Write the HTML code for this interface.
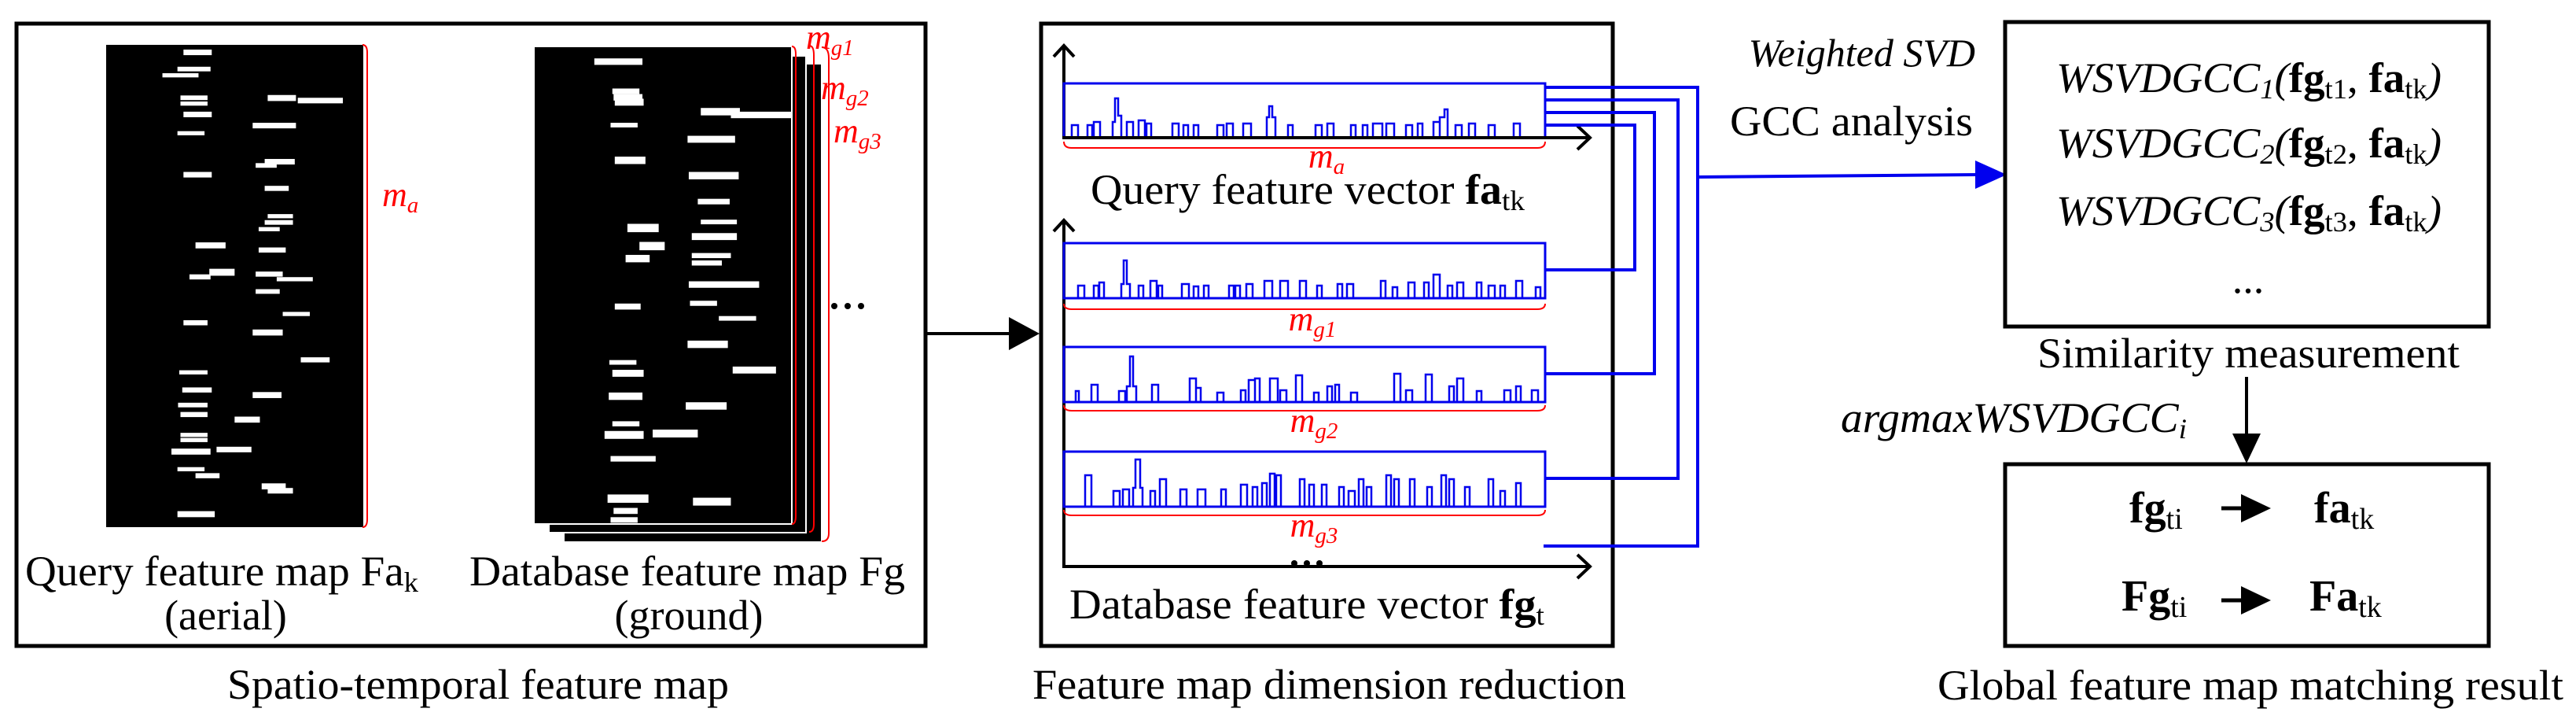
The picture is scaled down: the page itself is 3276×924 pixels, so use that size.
<!DOCTYPE html>
<html><head><meta charset="utf-8"><style>
html,body{margin:0;padding:0;background:#fff;font-family:"Liberation Serif","Times New Roman",serif;}
svg{display:block;}
svg text{font-family:"Liberation Serif","Times New Roman",serif;}
</style></head><body>
<svg width="3276" height="924" viewBox="0 0 3276 924" xmlns="http://www.w3.org/2000/svg" font-family="'Liberation Serif', 'Times New Roman', serif">
<defs>
<path id="sA" fill="none" stroke="#0000ee" stroke-width="2.5" d="M18 0v-16h8v16M38 0v-16h6v16M45 0v-20h6v20M73 0v-18h3v-30h4v30h4v18M95 0v-16h6v16M110 0v-22h8v22M120 0v-16h5v16M150 0v-18h9v18M165 0v-15h6v15M178 0v-16h6v16M210 0v-16h6v16M218 0v-16h6v16M232 0v-18h8v18M255 0v-22h10v22M275 0v-22h10v22M300 0v-22h8v22M322 0v-16h6v16M348 0v-18h6v18M360 0v-18h8v18M403 0v-22h6v22M418 0v-14h6v14M438 0v-20h8v20M458 0v-20h6v20M470 0v-30h8v30M488 0v-16h6v16M500 0v-20h8v20M525 0v-20h6v20M540 0v-16h8v16M555 0v-16h6v16M575 0v-22h8v22M600 0v-14h6v14"/>
<path id="sQ" fill="none" stroke="#0000ee" stroke-width="2.5" d="M10 0v-16h8v16M30 0v-16h6v16M38 0v-20h8v20M62 0v-20h3v-30h4v22h4v28M80 0v-20h8v20M95 0v-22h8v22M105 0v-18h6v18M138 0v-18h8v18M152 0v-16h6v16M165 0v-16h6v16M195 0v-16h8v16M207 0v-18h8v18M228 0v-18h10v18M258 0v-26h3v-14h4v14h4v26M285 0v-16h6v16M320 0v-16h8v16M335 0v-18h8v18M365 0v-16h6v16M380 0v-16h6v16M393 0v-18h12v18M410 0v-18h10v18M435 0v-16h8v16M450 0v-18h6v18M470 0v-20h8v20M478 0v-26h6v-10h4v36M498 0v-16h8v16M515 0v-18h8v18M540 0v-16h8v16M572 0v-18h8v18"/>
<path id="sB" fill="none" stroke="#0000ee" stroke-width="2.5" d="M15 0v-14h4v14M35 0v-22h8v22M70 0v-14h8v14M80 0v-20h4v-38h4v38h4v20M112 0v-22h8v22M160 0v-30h8v30M168 0v-18h6v18M195 0v-12h8v12M225 0v-15h6v15M235 0v-28h8v28M243 0v-30h6v30M262 0v-30h10v30M275 0v-15h8v15M295 0v-34h8v34M318 0v-12h6v12M335 0v-20h6v20M345 0v-22h5v22M365 0v-12h8v12M420 0v-36h8v36M435 0v-15h8v15M460 0v-35h8v35M490 0v-20h6v20M500 0v-30h8v30M525 0v-14h6v14M560 0v-15h8v15M575 0v-20h6v20M595 0v-15h8v15"/>
<path id="sC" fill="none" stroke="#0000ee" stroke-width="2.5" d="M27 0v-40h8v40M63 0v-20h8v20M75 0v-22h8v22M88 0v-24h3v-36h6v36h3v24M110 0v-20h6v20M122 0v-35h8v35M148 0v-22h8v22M170 0v-22h10v22M200 0v-22h6v22M225 0v-28h8v28M240 0v-25h6v25M252 0v-30h6v30M262 0v-42h6v42M270 0v-40h6v40M300 0v-35h6v35M312 0v-28h6v28M328 0v-28h6v28M350 0v-25h6v25M362 0v-20h8v20M375 0v-35h6v35M385 0v-25h6v25M410 0v-40h6v40M420 0v-35h6v35M440 0v-35h6v35M462 0v-25h6v25M480 0v-40h6v40M490 0v-35h6v35M510 0v-25h6v25M540 0v-35h6v35M555 0v-20h6v20M575 0v-30h6v30"/>
</defs>

<rect x="21" y="30" width="1156" height="791" fill="none" stroke="#000" stroke-width="5"/>
<rect x="135" y="57" width="327" height="613" fill="#000"/>
<g transform="scale(0.765,0.589)" fill="#fff">
<rect x="305" y="107" width="47" height="12"/><rect x="295" y="144" width="55" height="10"/><rect x="270" y="158" width="60" height="9"/>
<rect x="300" y="206" width="45" height="10"/><rect x="300" y="219" width="45" height="9"/><rect x="305" y="241" width="47" height="12"/>
<rect x="445" y="205" width="47" height="13"/><rect x="495" y="211" width="75" height="12"/><rect x="295" y="283" width="45" height="9"/>
<rect x="420" y="265" width="72" height="12"/><rect x="440" y="343" width="50" height="12"/><rect x="425" y="352" width="35" height="10"/>
<rect x="305" y="371" width="47" height="12"/><rect x="440" y="401" width="40" height="11"/><rect x="445" y="462" width="42" height="9"/>
<rect x="440" y="475" width="47" height="10"/><rect x="430" y="490" width="35" height="9"/><rect x="325" y="523" width="50" height="13"/>
<rect x="430" y="534" width="45" height="11"/><rect x="315" y="592" width="35" height="11"/><rect x="348" y="580" width="42" height="15"/>
<rect x="425" y="586" width="45" height="11"/><rect x="460" y="598" width="60" height="9"/><rect x="425" y="624" width="40" height="10"/>
<rect x="305" y="691" width="40" height="11"/><rect x="420" y="711" width="50" height="13"/><rect x="470" y="673" width="45" height="9"/>
<rect x="500" y="771" width="48" height="11"/><rect x="298" y="799" width="47" height="9"/><rect x="303" y="836" width="49" height="11"/>
<rect x="420" y="846" width="48" height="13"/><rect x="296" y="869" width="49" height="10"/><rect x="300" y="889" width="45" height="11"/>
<rect x="390" y="899" width="42" height="13"/><rect x="300" y="934" width="45" height="9"/><rect x="300" y="945" width="45" height="9"/>
<rect x="285" y="968" width="65" height="13"/><rect x="360" y="964" width="58" height="12"/><rect x="295" y="1008" width="45" height="9"/>
<rect x="325" y="1021" width="40" height="11"/><rect x="435" y="1043" width="40" height="13"/><rect x="445" y="1053" width="42" height="12"/>
<rect x="295" y="1103" width="62" height="13"/>
</g>
<path d="M461 57 q6 0 6 10 V660 q0 10 -6 10" fill="none" stroke="#f00" stroke-width="2"/>
<text x="486" y="262" font-size="44" font-style="italic" fill="#f00">m<tspan font-size="29" dy="8">a</tspan></text>

<rect x="718" y="82" width="326" height="606" fill="#000"/>
<rect x="698" y="71" width="327" height="606" fill="#000" stroke="#fff" stroke-width="2"/>
<rect x="679" y="59" width="328" height="607" fill="#000" stroke="#fff" stroke-width="2"/>
<g transform="scale(0.765,0.589)" fill="#fff">
<rect x="988" y="126" width="80" height="14"/><rect x="1018" y="191" width="45" height="12"/><rect x="1020" y="203" width="48" height="14"/>
<rect x="1022" y="213" width="48" height="15"/><rect x="1165" y="233" width="65" height="16"/><rect x="1215" y="241" width="100" height="14"/>
<rect x="1015" y="265" width="45" height="10"/><rect x="1143" y="293" width="79" height="15"/><rect x="1022" y="338" width="51" height="16"/>
<rect x="1145" y="371" width="83" height="16"/><rect x="1160" y="429" width="53" height="12"/><rect x="1043" y="483" width="52" height="18"/>
<rect x="1165" y="474" width="60" height="10"/><rect x="1150" y="503" width="75" height="15"/><rect x="1063" y="522" width="42" height="18"/>
<rect x="1040" y="550" width="40" height="16"/><rect x="1150" y="546" width="65" height="11"/><rect x="1150" y="562" width="50" height="11"/>
<rect x="1145" y="607" width="117" height="14"/><rect x="1022" y="655" width="43" height="13"/><rect x="1147" y="649" width="45" height="11"/>
<rect x="1195" y="682" width="62" height="10"/><rect x="1143" y="735" width="67" height="16"/><rect x="1013" y="777" width="45" height="10"/>
<rect x="1018" y="798" width="52" height="15"/><rect x="1218" y="791" width="72" height="15"/><rect x="1012" y="847" width="56" height="16"/>
<rect x="1140" y="868" width="68" height="16"/><rect x="1018" y="909" width="45" height="11"/><rect x="1005" y="930" width="65" height="17"/>
<rect x="1085" y="927" width="75" height="17"/><rect x="1015" y="984" width="75" height="12"/><rect x="1010" y="1067" width="68" height="18"/>
<rect x="1152" y="1074" width="63" height="17"/><rect x="1020" y="1096" width="40" height="13"/><rect x="1015" y="1116" width="45" height="12"/>
</g>
<path d="M1007 59 q5 0 5 10 V656 q0 10 -5 10" fill="none" stroke="#f00" stroke-width="2"/>
<path d="M1029 58 q6 0 6 12 V666 q0 10 -6 10" fill="none" stroke="#f00" stroke-width="2"/>
<path d="M1045 60 q9 0 9 14 V678 q0 10 -9 10" fill="none" stroke="#f00" stroke-width="2"/>
<text x="1025" y="62" font-size="44" font-style="italic" fill="#f00">m<tspan font-size="29" dy="8">g1</tspan></text>
<text x="1044" y="126" font-size="44" font-style="italic" fill="#f00">m<tspan font-size="29" dy="8">g2</tspan></text>
<text x="1060" y="181" font-size="44" font-style="italic" fill="#f00">m<tspan font-size="29" dy="8">g3</tspan></text>
<circle cx="1061" cy="389" r="4"/><circle cx="1078" cy="389" r="4"/><circle cx="1095" cy="389" r="4"/>

<text x="32" y="744" font-size="54" textLength="500" lengthAdjust="spacingAndGlyphs">Query feature map Fa<tspan font-size="36" dy="8">k</tspan></text>
<text x="287" y="800" font-size="54" text-anchor="middle">(aerial)</text>
<text x="597" y="744" font-size="54" textLength="554" lengthAdjust="spacingAndGlyphs">Database feature map Fg</text>
<text x="876" y="800" font-size="54" text-anchor="middle">(ground)</text>
<text x="289" y="888" font-size="54" textLength="638" lengthAdjust="spacingAndGlyphs">Spatio-temporal feature map</text>

<line x1="1177" y1="424" x2="1290" y2="424" stroke="#000" stroke-width="4"/>
<polygon points="1283,403 1322,424 1283,445" fill="#000"/>

<rect x="1324" y="30" width="727" height="791" fill="none" stroke="#000" stroke-width="5"/>
<line x1="1353" y1="58" x2="1353" y2="177" stroke="#000" stroke-width="4"/>
<polyline points="1340,72 1353,58 1366,72" fill="none" stroke="#000" stroke-width="4"/>
<rect x="1353" y="106" width="612" height="69" fill="none" stroke="#0000ee" stroke-width="3"/>
<use href="#sQ" transform="translate(1353,175)"/>
<line x1="1351" y1="175" x2="2022" y2="175" stroke="#000" stroke-width="4"/>
<polyline points="2006,160 2022,175 2006,190" fill="none" stroke="#000" stroke-width="4"/>
<path d="M1353 180 q0 8 10 8 H1955 q10 0 10 -8" fill="none" stroke="#f00" stroke-width="2"/>
<text x="1687" y="213" font-size="44" font-style="italic" fill="#f00" text-anchor="middle">m<tspan font-size="29" dy="8">a</tspan></text>
<text x="1387" y="259" font-size="54" textLength="552" lengthAdjust="spacingAndGlyphs">Query feature vector <tspan font-weight="bold">fa</tspan><tspan font-size="36" dy="8">tk</tspan></text>

<line x1="1353" y1="280" x2="1353" y2="722" stroke="#000" stroke-width="4"/>
<polyline points="1340,294 1353,280 1366,294" fill="none" stroke="#000" stroke-width="4"/>
<line x1="1351" y1="720" x2="2022" y2="720" stroke="#000" stroke-width="4"/>
<polyline points="2006,705 2022,720 2006,735" fill="none" stroke="#000" stroke-width="4"/>

<rect x="1353" y="309" width="612" height="70" fill="none" stroke="#0000ee" stroke-width="3"/>
<use href="#sA" transform="translate(1353,379)"/>
<path d="M1353 386 q0 7 10 7 H1955 q10 0 10 -7" fill="none" stroke="#f00" stroke-width="2"/>
<text x="1669" y="420" font-size="44" font-style="italic" fill="#f00" text-anchor="middle">m<tspan font-size="29" dy="8">g1</tspan></text>

<rect x="1353" y="441" width="612" height="70" fill="none" stroke="#0000ee" stroke-width="3"/>
<use href="#sB" transform="translate(1353,511)"/>
<path d="M1353 515 q0 7 10 7 H1955 q10 0 10 -7" fill="none" stroke="#f00" stroke-width="2"/>
<text x="1671" y="549" font-size="44" font-style="italic" fill="#f00" text-anchor="middle">m<tspan font-size="29" dy="8">g2</tspan></text>

<rect x="1353" y="574" width="612" height="70" fill="none" stroke="#0000ee" stroke-width="3"/>
<use href="#sC" transform="translate(1353,644)"/>
<path d="M1353 648 q0 7 10 7 H1955 q10 0 10 -7" fill="none" stroke="#f00" stroke-width="2"/>
<text x="1671" y="682" font-size="44" font-style="italic" fill="#f00" text-anchor="middle">m<tspan font-size="29" dy="8">g3</tspan></text>
<circle cx="1646" cy="716" r="4"/><circle cx="1662" cy="716" r="4"/><circle cx="1678" cy="716" r="4"/>

<text x="1360" y="786" font-size="54" textLength="604" lengthAdjust="spacingAndGlyphs">Database feature vector <tspan font-weight="bold">fg</tspan><tspan font-size="36" dy="8">t</tspan></text>
<text x="1313" y="888" font-size="54" textLength="755" lengthAdjust="spacingAndGlyphs">Feature map dimension reduction</text>

<g fill="none" stroke="#0000ee" stroke-width="4">
<polyline points="1965,111 2159,111 2159,694 1963,694"/>
<polyline points="1965,127 2134,127 2134,608 1965,608"/>
<polyline points="1965,143 2104,143 2104,475 1965,475"/>
<polyline points="1965,159 2079,159 2079,343 1965,343"/>
<line x1="2159" y1="225" x2="2515" y2="222"/>
</g>
<polygon points="2512,204 2552,222 2512,240" fill="#0000ee"/>

<text x="2512" y="84" font-size="50" font-style="italic" text-anchor="end">Weighted SVD</text>
<text x="2200" y="172" font-size="54" textLength="309" lengthAdjust="spacingAndGlyphs">GCC analysis</text>

<rect x="2550" y="28" width="615" height="387" fill="none" stroke="#000" stroke-width="5"/>
<text x="2615" y="117" font-size="54" textLength="490" lengthAdjust="spacingAndGlyphs"><tspan font-style="italic">WSVDGCC</tspan><tspan font-style="italic" font-size="36" dy="8">1</tspan><tspan font-style="italic" dy="-8">(</tspan><tspan font-weight="bold">fg</tspan><tspan font-size="36" dy="8">t1</tspan><tspan dy="-8">, </tspan><tspan font-weight="bold">fa</tspan><tspan font-size="36" dy="8">tk</tspan><tspan font-style="italic" dy="-8">)</tspan></text>
<text x="2615" y="200" font-size="54" textLength="490" lengthAdjust="spacingAndGlyphs"><tspan font-style="italic">WSVDGCC</tspan><tspan font-style="italic" font-size="36" dy="8">2</tspan><tspan font-style="italic" dy="-8">(</tspan><tspan font-weight="bold">fg</tspan><tspan font-size="36" dy="8">t2</tspan><tspan dy="-8">, </tspan><tspan font-weight="bold">fa</tspan><tspan font-size="36" dy="8">tk</tspan><tspan font-style="italic" dy="-8">)</tspan></text>
<text x="2615" y="286" font-size="54" textLength="490" lengthAdjust="spacingAndGlyphs"><tspan font-style="italic">WSVDGCC</tspan><tspan font-style="italic" font-size="36" dy="8">3</tspan><tspan font-style="italic" dy="-8">(</tspan><tspan font-weight="bold">fg</tspan><tspan font-size="36" dy="8">t3</tspan><tspan dy="-8">, </tspan><tspan font-weight="bold">fa</tspan><tspan font-size="36" dy="8">tk</tspan><tspan font-style="italic" dy="-8">)</tspan></text>
<text x="2859" y="372" font-size="54" text-anchor="middle">...</text>
<text x="2591" y="467" font-size="54" textLength="537" lengthAdjust="spacingAndGlyphs">Similarity measurement</text>

<line x1="2857" y1="479" x2="2857" y2="560" stroke="#000" stroke-width="4"/>
<polygon points="2839,551 2857,589 2875,551" fill="#000"/>
<text x="2341" y="549" font-size="54" font-style="italic" textLength="440" lengthAdjust="spacingAndGlyphs">argmaxWSVDGCC<tspan font-size="36" dy="8">i</tspan></text>

<rect x="2550" y="590" width="615" height="231" fill="none" stroke="#000" stroke-width="5"/>
<text x="2708" y="664" font-size="56"><tspan font-weight="bold">fg</tspan><tspan font-size="38" dy="8">ti</tspan></text>
<line x1="2825" y1="646" x2="2860" y2="646" stroke="#000" stroke-width="5"/>
<polygon points="2850,628 2888,646 2850,664" fill="#000"/>
<text x="2943" y="664" font-size="56"><tspan font-weight="bold">fa</tspan><tspan font-size="38" dy="8">tk</tspan></text>
<text x="2698" y="776" font-size="56"><tspan font-weight="bold">Fg</tspan><tspan font-size="38" dy="8">ti</tspan></text>
<line x1="2825" y1="763" x2="2860" y2="763" stroke="#000" stroke-width="5"/>
<polygon points="2850,745 2888,763 2850,781" fill="#000"/>
<text x="2937" y="776" font-size="56"><tspan font-weight="bold">Fa</tspan><tspan font-size="38" dy="8">tk</tspan></text>
<text x="2464" y="889" font-size="54" textLength="796" lengthAdjust="spacingAndGlyphs">Global feature map matching result</text>
</svg>
</body></html>
